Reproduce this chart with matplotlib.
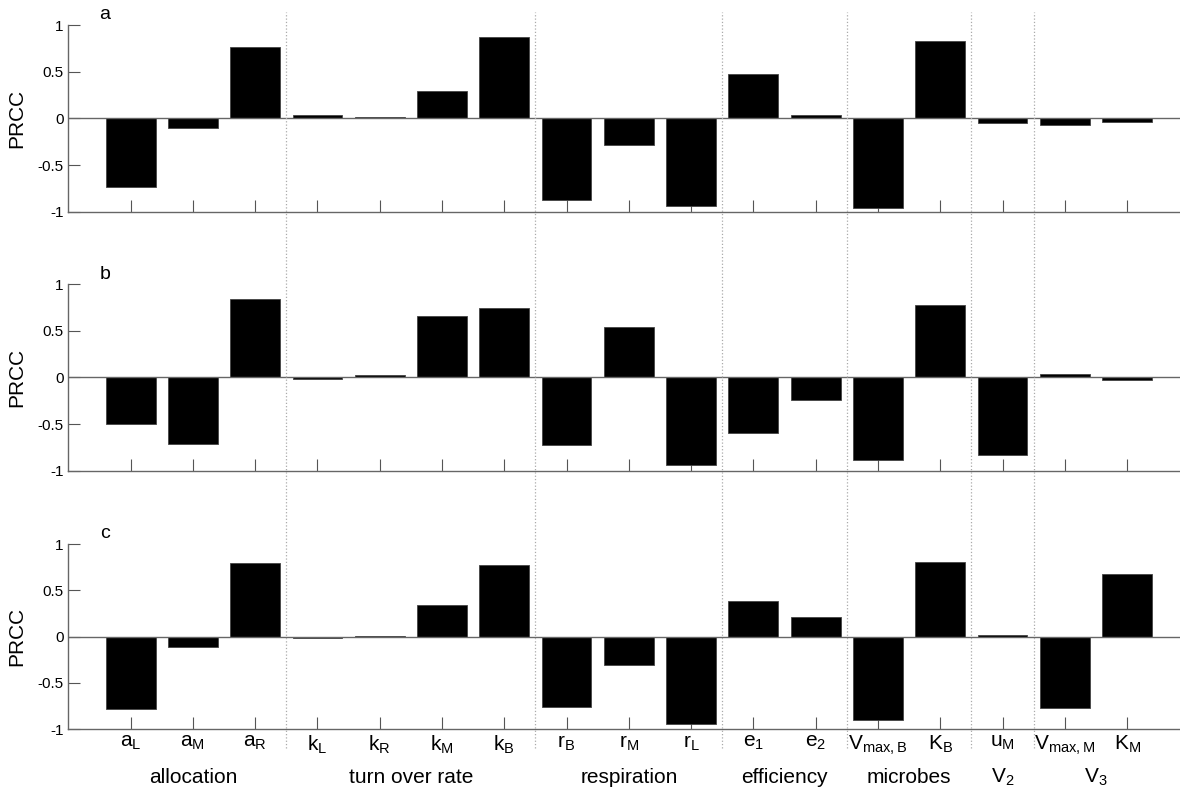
import matplotlib
matplotlib.use("Agg")
import matplotlib.pyplot as plt
from matplotlib.lines import Line2D
from matplotlib.transforms import blended_transform_factory

plt.rcParams['font.family'] = ['Liberation Sans', 'DejaVu Sans']
plt.rcParams['mathtext.default'] = 'regular'

params = [r'$a_L$', r'$a_M$', r'$a_R$', r'$k_L$', r'$k_R$', r'$k_M$', r'$k_B$',
          r'$r_B$', r'$r_M$', r'$r_L$', r'$e_1$', r'$e_2$', r'$V_{max,B}$', r'$K_B$',
          r'$u_M$', r'$V_{max,M}$', r'$K_M$']

prcc_a = [-0.73, -0.108, 0.77, 0.032, 0.018, 0.295, 0.867, -0.874, -0.284, -0.935,
          0.475, 0.032, -0.957, 0.831, -0.054, -0.076, -0.043]
prcc_b = [-0.502, -0.71, 0.842, -0.011, 0.029, 0.656, 0.749, -0.72, 0.545, -0.935,
          -0.595, -0.237, -0.882, 0.774, -0.835, 0.039, -0.022]
prcc_c = [-0.776, -0.108, 0.794, -0.011, 0.002, 0.345, 0.772, -0.761, -0.309, -0.944,
          0.388, 0.215, -0.901, 0.811, 0.014, -0.765, 0.679]

groups = ['allocation', 'turn over rate', 'respiration', 'efficiency', 'microbes',
          r'$V_2$', r'$V_3$']
group_sizes = [3, 4, 3, 2, 2, 1, 2]

panels = ['a', 'b', 'c']
series = [prcc_a, prcc_b, prcc_c]

fig = plt.figure(figsize=(11.8, 7.88), dpi=100)
x = list(range(1, len(params) + 1))

# axes boxes in figure fractions: [left, bottom, width, height]
boxes = [[0.0579, 0.7313, 0.9421, 0.2369],
         [0.0579, 0.4027, 0.9421, 0.2365],
         [0.0579, 0.0745, 0.9421, 0.2351]]

axes = []
for i in range(3):
    ax = fig.add_axes(boxes[i])
    ax.bar(x, series[i], width=0.8, color='black', edgecolor='#444444', linewidth=0.6, zorder=2)
    ax.axhline(0, color='#666666', linewidth=1.0, zorder=3)
    ax.set_xlim(0, 17.85)
    ax.set_ylim(-1, 1)
    ax.set_yticks([-1, -0.5, 0, 0.5, 1])
    ax.set_yticklabels(['-1', '-0.5', '0', '0.5', '1'])
    ax.set_xticks(x)
    ax.tick_params(direction='in', length=8.4, color='#555555', labelsize=11, width=0.8)
    if i == 2:
        ax.set_xticklabels(params)
        ax.tick_params(axis='x', labelsize=15, pad=3)
    else:
        ax.set_xticklabels([])
    for s in ['top', 'right']:
        ax.spines[s].set_visible(False)
    for s in ['left', 'bottom']:
        ax.spines[s].set_color('#666666')
        ax.spines[s].set_linewidth(1.0)
    ax.set_ylabel('PRCC', fontsize=15, labelpad=8)
    ax.text(0.59, 1.11, panels[i], fontsize=14, ha='center', va='center')
    ax.patch.set_alpha(0)
    axes.append(ax)

# dotted group separators spanning the whole figure
trans = blended_transform_factory(axes[2].transData, fig.transFigure)
pos = 0.5
centers = []
for n in group_sizes:
    centers.append(pos + n / 2)
    pos += n
    if pos < len(params):
        fig.add_artist(Line2D([pos, pos], [0.051, 0.985], transform=trans,
                              color='#aaaaaa', linestyle=':', linewidth=0.9))

for g, c in zip(groups, centers):
    axes[2].text(c, -1.52, g, fontsize=15, ha='center', va='center')

fig.savefig('out.png', dpi=100)
